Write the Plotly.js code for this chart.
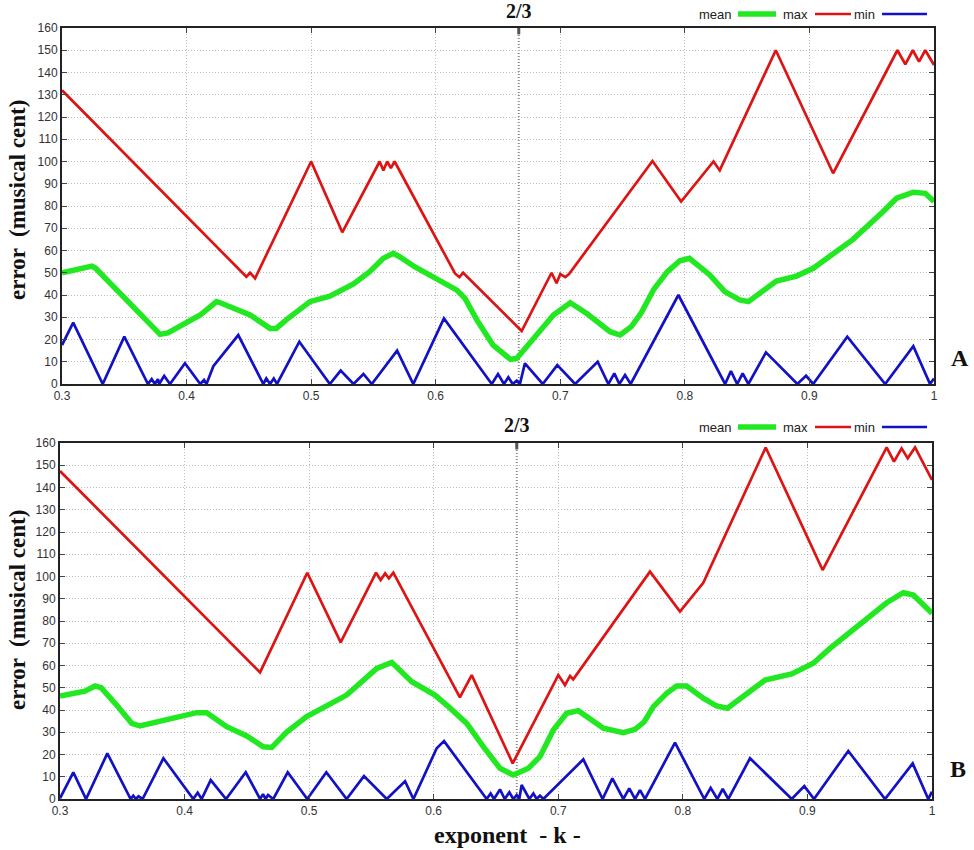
<!DOCTYPE html>
<html>
<head>
<meta charset="utf-8">
<script src="https://cdn.plot.ly/plotly-3.0.1.min.js"></script>
<style>
  html, body { margin: 0; padding: 0; background: #fff; }
  #chart { width: 974px; height: 850px; }
</style>
</head>
<body>
<div id="chart"></div>
<script>
// ---------- Data ----------
// Panel A
const kA_max = [0.3, 0.448, 0.451, 0.455, 0.5, 0.525, 0.555, 0.558, 0.561, 0.564, 0.567, 0.6155, 0.619, 0.622, 0.669, 0.693, 0.697, 0.700, 0.704, 0.707, 0.774, 0.797, 0.823, 0.828, 0.873, 0.919, 0.9706, 0.977, 0.983, 0.988, 0.993, 1.0];
const errA_max = [132, 48.2, 50, 47.5, 100, 68.2, 100, 96, 100, 97, 100, 49.7, 48, 50, 23.8, 50, 45.3, 49.4, 48, 49.4, 100.2, 82, 100, 96, 150, 94.7, 150, 143.7, 150, 144.9, 150, 143.4];

const kA_mean = [0.3, 0.324, 0.327, 0.3787, 0.385, 0.411, 0.424, 0.428, 0.451, 0.467, 0.472, 0.48, 0.499, 0.515, 0.534, 0.547, 0.558, 0.566, 0.571, 0.583, 0.6, 0.617, 0.6235, 0.633, 0.646, 0.66, 0.665, 0.678, 0.6945, 0.708, 0.721, 0.74, 0.748, 0.757, 0.765, 0.775, 0.786, 0.796, 0.8036, 0.82, 0.832, 0.844, 0.851, 0.8735, 0.8896, 0.903, 0.935, 0.959, 0.97, 0.9834, 0.993, 1.0];
const errA_mean = [50, 53, 52, 22.3, 23, 31, 37, 36.3, 31, 25, 25, 28.8, 37, 39.5, 45, 50.5, 56.5, 58.7, 57.2, 52.7, 47.5, 42.2, 38.5, 28.8, 17.5, 11.1, 11.5, 19.8, 31, 36.5, 31.8, 23.5, 22, 25.8, 32, 42.5, 50.5, 55.4, 56.5, 49, 41.5, 37.8, 37, 46.3, 48.5, 52, 65, 77.4, 83.5, 86.2, 85.7, 82];

const kA_min = [0.3, 0.309, 0.3327, 0.35, 0.369, 0.372, 0.3745, 0.377, 0.378, 0.382, 0.3867, 0.3987, 0.411, 0.414, 0.416, 0.4215, 0.4415, 0.4616, 0.464, 0.467, 0.47, 0.4726, 0.4905, 0.515, 0.5237, 0.534, 0.542, 0.5487, 0.569, 0.582, 0.6066, 0.645, 0.650, 0.6548, 0.6583, 0.6618, 0.665, 0.6676, 0.6716, 0.6859, 0.6976, 0.7119, 0.730, 0.7386, 0.7434, 0.7474, 0.752, 0.7565, 0.7948, 0.8323, 0.837, 0.842, 0.8464, 0.851, 0.8651, 0.8903, 0.8973, 0.903, 0.9304, 0.9608, 0.9834, 0.9968, 1.0];
const errA_min = [17.5, 27.6, 0, 21.3, 0, 2.2, 0, 2.2, 0, 3.6, 0, 9.3, 0, 1.8, 0, 8, 22, 0, 2.5, 0, 2.5, 0, 19, 0, 6, 0, 4.5, 0, 15, 0, 29.5, 0, 4.5, 0, 3, 0, 1.5, 0, 9.3, 0, 8.5, 0, 10, 0, 4.8, 0, 4, 0, 40, 0, 5.8, 0, 4.8, 0, 14.2, 0, 3.7, 0, 21.3, 0, 17, 0, 2.5];

// Panel B
const kB_max = [0.3, 0.4606, 0.4985, 0.5253, 0.5537, 0.5574, 0.561, 0.564, 0.5676, 0.621, 0.6305, 0.6634, 0.7, 0.7054, 0.7094, 0.712, 0.7736, 0.7977, 0.8164, 0.8665, 0.9122, 0.9636, 0.9695, 0.9756, 0.9805, 0.9864, 1.0];
const errB_max = [147.4, 56.9, 101.7, 70.4, 101.7, 98.4, 101.4, 99.2, 101.7, 45.7, 55.7, 16, 55.7, 51.2, 55.3, 53.8, 102.2, 84.2, 97.2, 158, 102.9, 158, 151.6, 157.6, 153.1, 158, 143.4];

const kB_mean = [0.3, 0.32, 0.3281, 0.333, 0.3442, 0.3576, 0.3642, 0.3803, 0.4097, 0.4178, 0.4338, 0.4499, 0.4632, 0.47, 0.482, 0.498, 0.5167, 0.5301, 0.5543, 0.5663, 0.5824, 0.601, 0.6118, 0.6265, 0.6398, 0.6532, 0.6639, 0.676, 0.6853, 0.696, 0.7067, 0.7161, 0.7362, 0.7522, 0.7616, 0.769, 0.7763, 0.787, 0.795, 0.803, 0.8164, 0.8271, 0.8357, 0.854, 0.866, 0.8874, 0.9047, 0.9181, 0.9395, 0.9636, 0.977, 0.985, 1.0];
const errB_mean = [46.3, 48.5, 50.8, 50, 43, 34, 32.8, 34.7, 38.8, 38.8, 32.5, 28.3, 23.5, 23.2, 30.1, 37, 42.7, 46.7, 58.7, 61.4, 52.7, 46.7, 41.5, 34, 23.5, 13.8, 10.8, 13.8, 19, 31, 38.5, 39.7, 31.8, 29.8, 31.3, 34.7, 41.5, 47.5, 50.8, 50.8, 45.3, 41.8, 40.8, 48.2, 53.5, 56.2, 61, 67.7, 77.4, 88.2, 92.7, 91.7, 83.5];

const kB_min = [0.3, 0.3107, 0.3209, 0.338, 0.3567, 0.3588, 0.361, 0.363, 0.3663, 0.383, 0.407, 0.4105, 0.4137, 0.421, 0.4333, 0.4491, 0.4606, 0.463, 0.465, 0.467, 0.4712, 0.4828, 0.4985, 0.5138, 0.5301, 0.544, 0.5623, 0.577, 0.5837, 0.6024, 0.6083, 0.6425, 0.6457, 0.6484, 0.6532, 0.657, 0.6607, 0.6639, 0.6666, 0.6687, 0.6706, 0.6768, 0.68, 0.6826, 0.6853, 0.688, 0.7201, 0.7356, 0.7434, 0.7522, 0.757, 0.7616, 0.7656, 0.7696, 0.7937, 0.8172, 0.8223, 0.8277, 0.832, 0.8365, 0.8539, 0.8874, 0.8975, 0.9053, 0.9328, 0.9623, 0.9845, 0.997, 1.0];
const errB_min = [0.3, 12, 0, 20.5, 0, 1.5, 0, 1.2, 0, 18.3, 0, 2.8, 0, 8.5, 0, 12, 0, 2.2, 0, 1.8, 0, 12, 0, 12, 0, 10.3, 0, 8, 0, 22.8, 26, 0, 2.5, 0, 4.3, 0, 3, 0, 1.8, 0, 6.3, 0, 2.5, 0, 1.5, 0, 17.8, 0, 9.3, 0, 4.8, 0, 4, 0, 25.3, 0, 5, 0, 4.5, 0, 18.3, 0, 5.8, 0, 21.6, 0, 16, 0, 3.3];

// Tick labels / markers
const markerVals = [2/3];
const markerText = ['2/3'];
const seriesNames = ['mean', 'max', 'min'];
const panelLabels = ['A', 'B'];

// ---------- Styling ----------
const COL = { mean: '#22e822', max: '#dd1414', min: '#1212c4' };
const WID = { mean: 5.5, max: 2.7, min: 2.7 };
const tickFont = { family: 'Liberation Sans, Arial, sans-serif', size: 12, color: '#333' };
const serifBold = 'Liberation Serif, DejaVu Serif, serif';
const GRID_DASH = '1px,2px';

function tr(x, y, name, xa, ya) {
  return { x: x, y: y, name: name, type: 'scatter', mode: 'lines',
    xaxis: xa, yaxis: ya, showlegend: false, hoverinfo: 'skip',
    line: { color: COL[name], width: WID[name], shape: 'linear' } };
}

const data = [
  tr(kA_mean, errA_mean, 'mean', 'x', 'y'),
  tr(kA_max, errA_max, 'max', 'x', 'y'),
  tr(kA_min, errA_min, 'min', 'x', 'y'),
  tr(kB_mean, errB_mean, 'mean', 'x2', 'y2'),
  tr(kB_max, errB_max, 'max', 'x2', 'y2'),
  tr(kB_min, errB_min, 'min', 'x2', 'y2')
];

function mainX(dom, anchor) {
  return { domain: dom, anchor: anchor, range: [0.3, 1], tick0: 0.3, dtick: 0.1,
    ticks: 'inside', ticklen: 5, tickwidth: 1, tickcolor: '#444', mirror: 'ticks',
    showline: true, linecolor: '#222', linewidth: 2,
    showgrid: true, gridcolor: '#bdbdbd', griddash: GRID_DASH, gridwidth: 1,
    zeroline: false, tickfont: tickFont, fixedrange: true };
}
function mainY(dom, anchor) {
  return { domain: dom, anchor: anchor, range: [0, 160], tick0: 0, dtick: 10,
    ticks: 'inside', ticklen: 5, tickwidth: 1, tickcolor: '#444', mirror: 'ticks',
    showline: true, linecolor: '#222', linewidth: 2,
    showgrid: true, gridcolor: '#bdbdbd', griddash: GRID_DASH, gridwidth: 1,
    zeroline: false, tickfont: tickFont, fixedrange: true };
}

const W = 974, H = 850;
const px = v => v / W, py = v => 1 - v / H;

const annotations = [];
const shapes = [];

// 2/3 marker: dotted vertical line, thick top tick and label (per panel)
[['x', 'y', 11], ['x2', 'y2', 425]].forEach(p => {
  markerVals.forEach((v, i) => {
    shapes.push({ type: 'line', xref: p[0], yref: p[1] + ' domain', x0: v, x1: v, y0: 0, y1: 1,
      layer: 'below', line: { color: '#8a8a8a', width: 2, dash: GRID_DASH } });
    shapes.push({ type: 'line', xref: p[0], yref: p[1] + ' domain', x0: v, x1: v, y0: 1, y1: 0.982,
      line: { color: '#555', width: 3 } });
    annotations.push({ xref: p[0], yref: 'paper', x: v, y: py(p[2]),
      xanchor: 'center', yanchor: 'middle', showarrow: false,
      text: '<b>' + markerText[i] + '</b>',
      font: { family: serifBold, size: 20, color: '#111' } });
  });
});

// Legend (gnuplot-style: text then sample line), drawn per panel
const legendText = { mean: 734, max: 810, min: 877 };
const legendLine = { mean: [738, 776], max: [815, 851], min: [882, 927] };
[14, 427].forEach(ly => {
  seriesNames.forEach(n => {
    annotations.push({ xref: 'paper', yref: 'paper', x: px(legendText[n]), y: py(ly),
      xanchor: 'right', yanchor: 'middle', text: n, showarrow: false,
      font: { family: 'Liberation Sans, Arial, sans-serif', size: 13, color: '#222' } });
    shapes.push({ type: 'line', xref: 'paper', yref: 'paper',
      x0: px(legendLine[n][0]), x1: px(legendLine[n][1]), y0: py(ly), y1: py(ly),
      line: { color: COL[n], width: WID[n] } });
  });
});

// Axis titles
[[17, 200], [17, 610]].forEach(p => {
  annotations.push({ xref: 'paper', yref: 'paper', x: px(p[0]), y: py(p[1]),
    xanchor: 'center', yanchor: 'middle', textangle: -90, showarrow: false,
    text: '<b>error &nbsp;(musical cent)</b>',
    font: { family: serifBold, size: 23, color: '#111' } });
});
annotations.push({ xref: 'paper', yref: 'paper', x: px(508), y: py(835),
  xanchor: 'center', yanchor: 'middle', showarrow: false,
  text: '<b>exponent &nbsp;- k -</b>',
  font: { family: serifBold, size: 24, color: '#111' } });

// Panel letters
[[960, 358], [958, 769]].forEach((p, i) => {
  annotations.push({ xref: 'paper', yref: 'paper', x: px(p[0]), y: py(p[1]),
    xanchor: 'center', yanchor: 'middle', showarrow: false,
    text: '<b>' + panelLabels[i] + '</b>',
    font: { family: serifBold, size: 24, color: '#111' } });
});

const layout = {
  width: W, height: H,
  margin: { l: 0, r: 0, t: 0, b: 0, pad: 0 },
  paper_bgcolor: '#fff', plot_bgcolor: '#fff',
  showlegend: false,
  font: tickFont,
  xaxis: mainX([px(62), px(934)], 'y'),
  yaxis: mainY([py(384), py(28)], 'x'),
  xaxis2: mainX([px(60), px(932)], 'y2'),
  yaxis2: mainY([py(799), py(443)], 'x2'),
  annotations: annotations,
  shapes: shapes
};

Plotly.newPlot('chart', data, layout, { displayModeBar: false, staticPlot: true });
</script>
</body>
</html>
